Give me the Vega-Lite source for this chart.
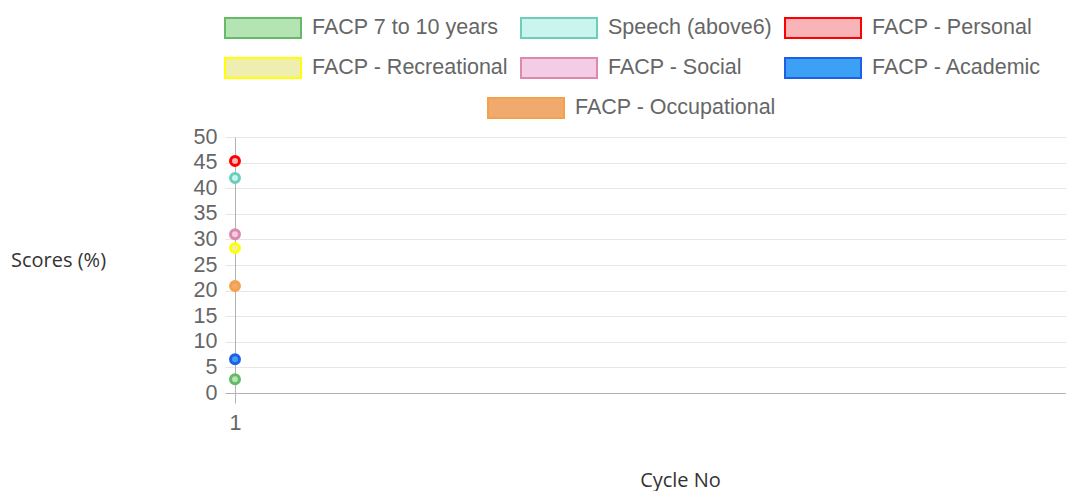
{
  "$schema": "https://vega.github.io/schema/vega-lite/v6.json",
  "width": 831,
  "height": 256,
  "autosize": {"type": "none"},
  "padding": {"left": 235, "top": 137, "right": 0, "bottom": 98},
  "background": "white",
  "config": {"view": {"stroke": null}},
  "data": {
    "values": [
      {"cycle": "1", "series": "FACP 7 to 10 years", "score": 2.7},
      {"cycle": "1", "series": "Speech (above6)", "score": 42},
      {"cycle": "1", "series": "FACP - Personal", "score": 45.3},
      {"cycle": "1", "series": "FACP - Recreational", "score": 28.3},
      {"cycle": "1", "series": "FACP - Social", "score": 31},
      {"cycle": "1", "series": "FACP - Academic", "score": 6.6},
      {"cycle": "1", "series": "FACP - Occupational", "score": 20.9}
    ]
  },
  "mark": {"type": "point", "shape": "circle", "size": 80, "strokeWidth": 3, "opacity": 1},
  "encoding": {
    "x": {
      "field": "cycle",
      "type": "ordinal",
      "scale": {"type": "point", "padding": 0, "align": 0},
      "axis": {
        "title": "Cycle No",
        "labelAngle": 0,
        "grid": false,
        "domainColor": "#b3b3b3",
        "tickColor": "#b3b3b3",
        "tickSize": 10,
        "labelFont": "Liberation Sans",
        "labelFontSize": 21.5,
        "labelColor": "#666666",
        "labelPadding": 9,
        "titleFont": "Open Sans",
        "titleFontSize": 20,
        "titleFontWeight": "normal",
        "titleColor": "#333333",
        "titleX": 445,
        "titleY": 87,
        "titleAlign": "center",
        "titleBaseline": "middle"
      }
    },
    "y": {
      "field": "score",
      "type": "quantitative",
      "scale": {"domain": [0, 50], "nice": false},
      "axis": {
        "title": "Scores (%)",
        "values": [0, 5, 10, 15, 20, 25, 30, 35, 40, 45, 50],
        "grid": true,
        "gridColor": {"condition": {"test": "datum.value === 0", "value": "#b3b3b3"}, "value": "#e6e6e6"},
        "tickColor": {"condition": {"test": "datum.value === 0", "value": "#b3b3b3"}, "value": "#e6e6e6"},
        "tickSize": 10,
        "domainColor": "#b3b3b3",
        "labelFont": "Liberation Sans",
        "labelFontSize": 21.5,
        "labelColor": "#666666",
        "labelPadding": 8,
        "titleFont": "Open Sans",
        "titleFontSize": 20,
        "titleFontWeight": "normal",
        "titleColor": "#333333",
        "titleAngle": 0,
        "titleX": -177,
        "titleY": 123,
        "titleAlign": "center",
        "titleBaseline": "middle"
      }
    },
    "fill": {
      "field": "series",
      "type": "nominal",
      "scale": {
        "domain": ["FACP 7 to 10 years", "Speech (above6)", "FACP - Personal", "FACP - Recreational", "FACP - Social", "FACP - Academic", "FACP - Occupational"],
        "range": ["#b4e3b4", "#c9f5ee", "#f9b4b8", "#eeeeb0", "#f5cce6", "#3ca0f5", "#f0aa6e"]
      },
      "legend": {
        "title": null,
        "orient": "none",
        "legendX": -11,
        "legendY": -121,
        "direction": "horizontal",
        "columns": 3,
        "columnPadding": 12,
        "rowPadding": 16,
        "clipHeight": 24,
        "values": ["FACP 7 to 10 years", "Speech (above6)", "FACP - Personal", "FACP - Recreational", "FACP - Social", "FACP - Academic"],
        "symbolType": "M-1,-0.26H1V0.26H-1Z",
        "symbolSize": 5776,
        "symbolStrokeWidth": 2,
        "symbolOpacity": 1,
        "labelOffset": 10,
        "labelFont": "Liberation Sans",
        "labelFontSize": 21.5,
        "labelColor": "#666666",
        "labelLimit": 400,
        "encode": {"symbols": {"update": {"stroke": {"scale": "stroke", "field": "value"}, "strokeWidth": {"value": 2}}}}
      }
    },
    "stroke": {
      "field": "series",
      "type": "nominal",
      "scale": {
        "domain": ["FACP - Occupational", "FACP 7 to 10 years", "Speech (above6)", "FACP - Personal", "FACP - Recreational", "FACP - Social", "FACP - Academic"],
        "range": ["#f5a04c", "#66b966", "#6ccdbd", "#ff0000", "#ffff00", "#dc8aab", "#1e5fe6"]
      },
      "legend": {
        "title": null,
        "orient": "none",
        "legendX": 252,
        "legendY": -41,
        "direction": "horizontal",
        "clipHeight": 24,
        "values": ["FACP - Occupational"],
        "symbolType": "M-1,-0.26H1V0.26H-1Z",
        "symbolSize": 5776,
        "symbolStrokeWidth": 2,
        "symbolOpacity": 1,
        "symbolFillColor": "#f0aa6e",
        "labelOffset": 10,
        "labelFont": "Liberation Sans",
        "labelFontSize": 21.5,
        "labelColor": "#666666",
        "labelLimit": 400,
        "encode": {"symbols": {"update": {"fill": {"value": "#f0aa6e"}, "strokeWidth": {"value": 2}}}}
      }
    }
  }
}
